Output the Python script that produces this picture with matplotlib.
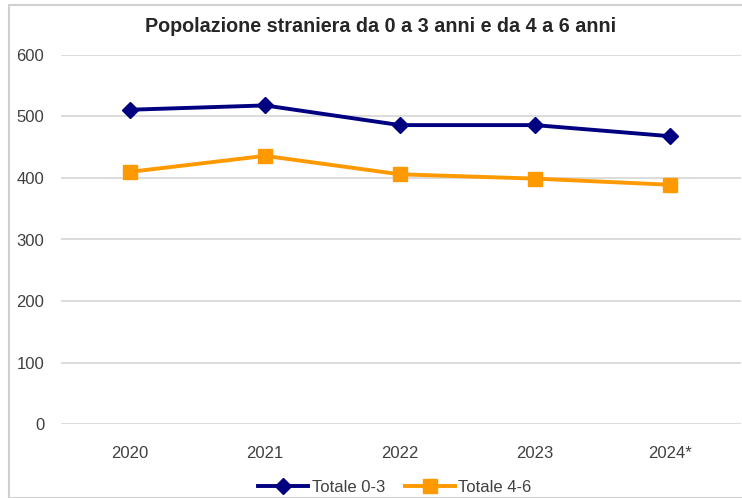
import matplotlib
matplotlib.use("Agg")
import matplotlib.pyplot as plt
from matplotlib.patches import Rectangle

years = ["2020", "2021", "2022", "2023", "2024*"]
totale_03 = [511, 518, 486, 486, 468]
totale_46 = [410, 436, 406, 399, 389]
yticks = [0, 100, 200, 300, 400, 500, 600]

plt.rcParams['font.family'] = ['Liberation Sans', 'DejaVu Sans']

W, H = 742, 498
fig = plt.figure(figsize=(W/100, H/100), dpi=100)
ax = fig.add_axes([61/W, 1-424/H, (741-61)/W, (424-55)/H])

x = list(range(len(years)))
ax.plot(x, totale_03, color="#000080", lw=2.8, marker="D", markersize=8.5, label="Totale 0-3", zorder=3)
ax.plot(x, totale_46, color="#FF9900", lw=2.8, marker="s", markersize=10.5, label="Totale 4-6", zorder=3)

ax.set_xlim(-0.511, 4.526)
ax.set_ylim(0, 600)
ax.set_yticks(yticks)
ax.set_yticklabels([str(v) for v in yticks], fontsize=12, color="#404040")
ax.set_xticks(x)
ax.set_xticklabels(years, fontsize=12, color="#404040")
ax.tick_params(length=0)
ax.tick_params(axis='y', pad=12)
ax.tick_params(axis='x', pad=16)
ax.grid(axis='y', color="#D9D9D9", lw=1.3)
for s in ax.spines.values():
    s.set_visible(False)
ax.set_axisbelow(True)

fig.text(381/W, 1-27/H, "Popolazione straniera da 0 a 3 anni e da 4 a 6 anni",
         ha="center", va="center", fontsize=14.2, fontweight="bold", color="#262626")

leg = fig.legend(loc="center", bbox_to_anchor=(395/W, 1-487/H), ncol=2, frameon=False,
                 fontsize=12, handlelength=3.0, columnspacing=1.2, handletextpad=0.2,
                 labelcolor="#404040")

fig.patches.append(Rectangle((9/W, 0), 1, 1-5/H, transform=fig.transFigure,
                             fill=False, edgecolor="#D0D0D0", lw=1.5))

fig.savefig("out.png", dpi=100)
